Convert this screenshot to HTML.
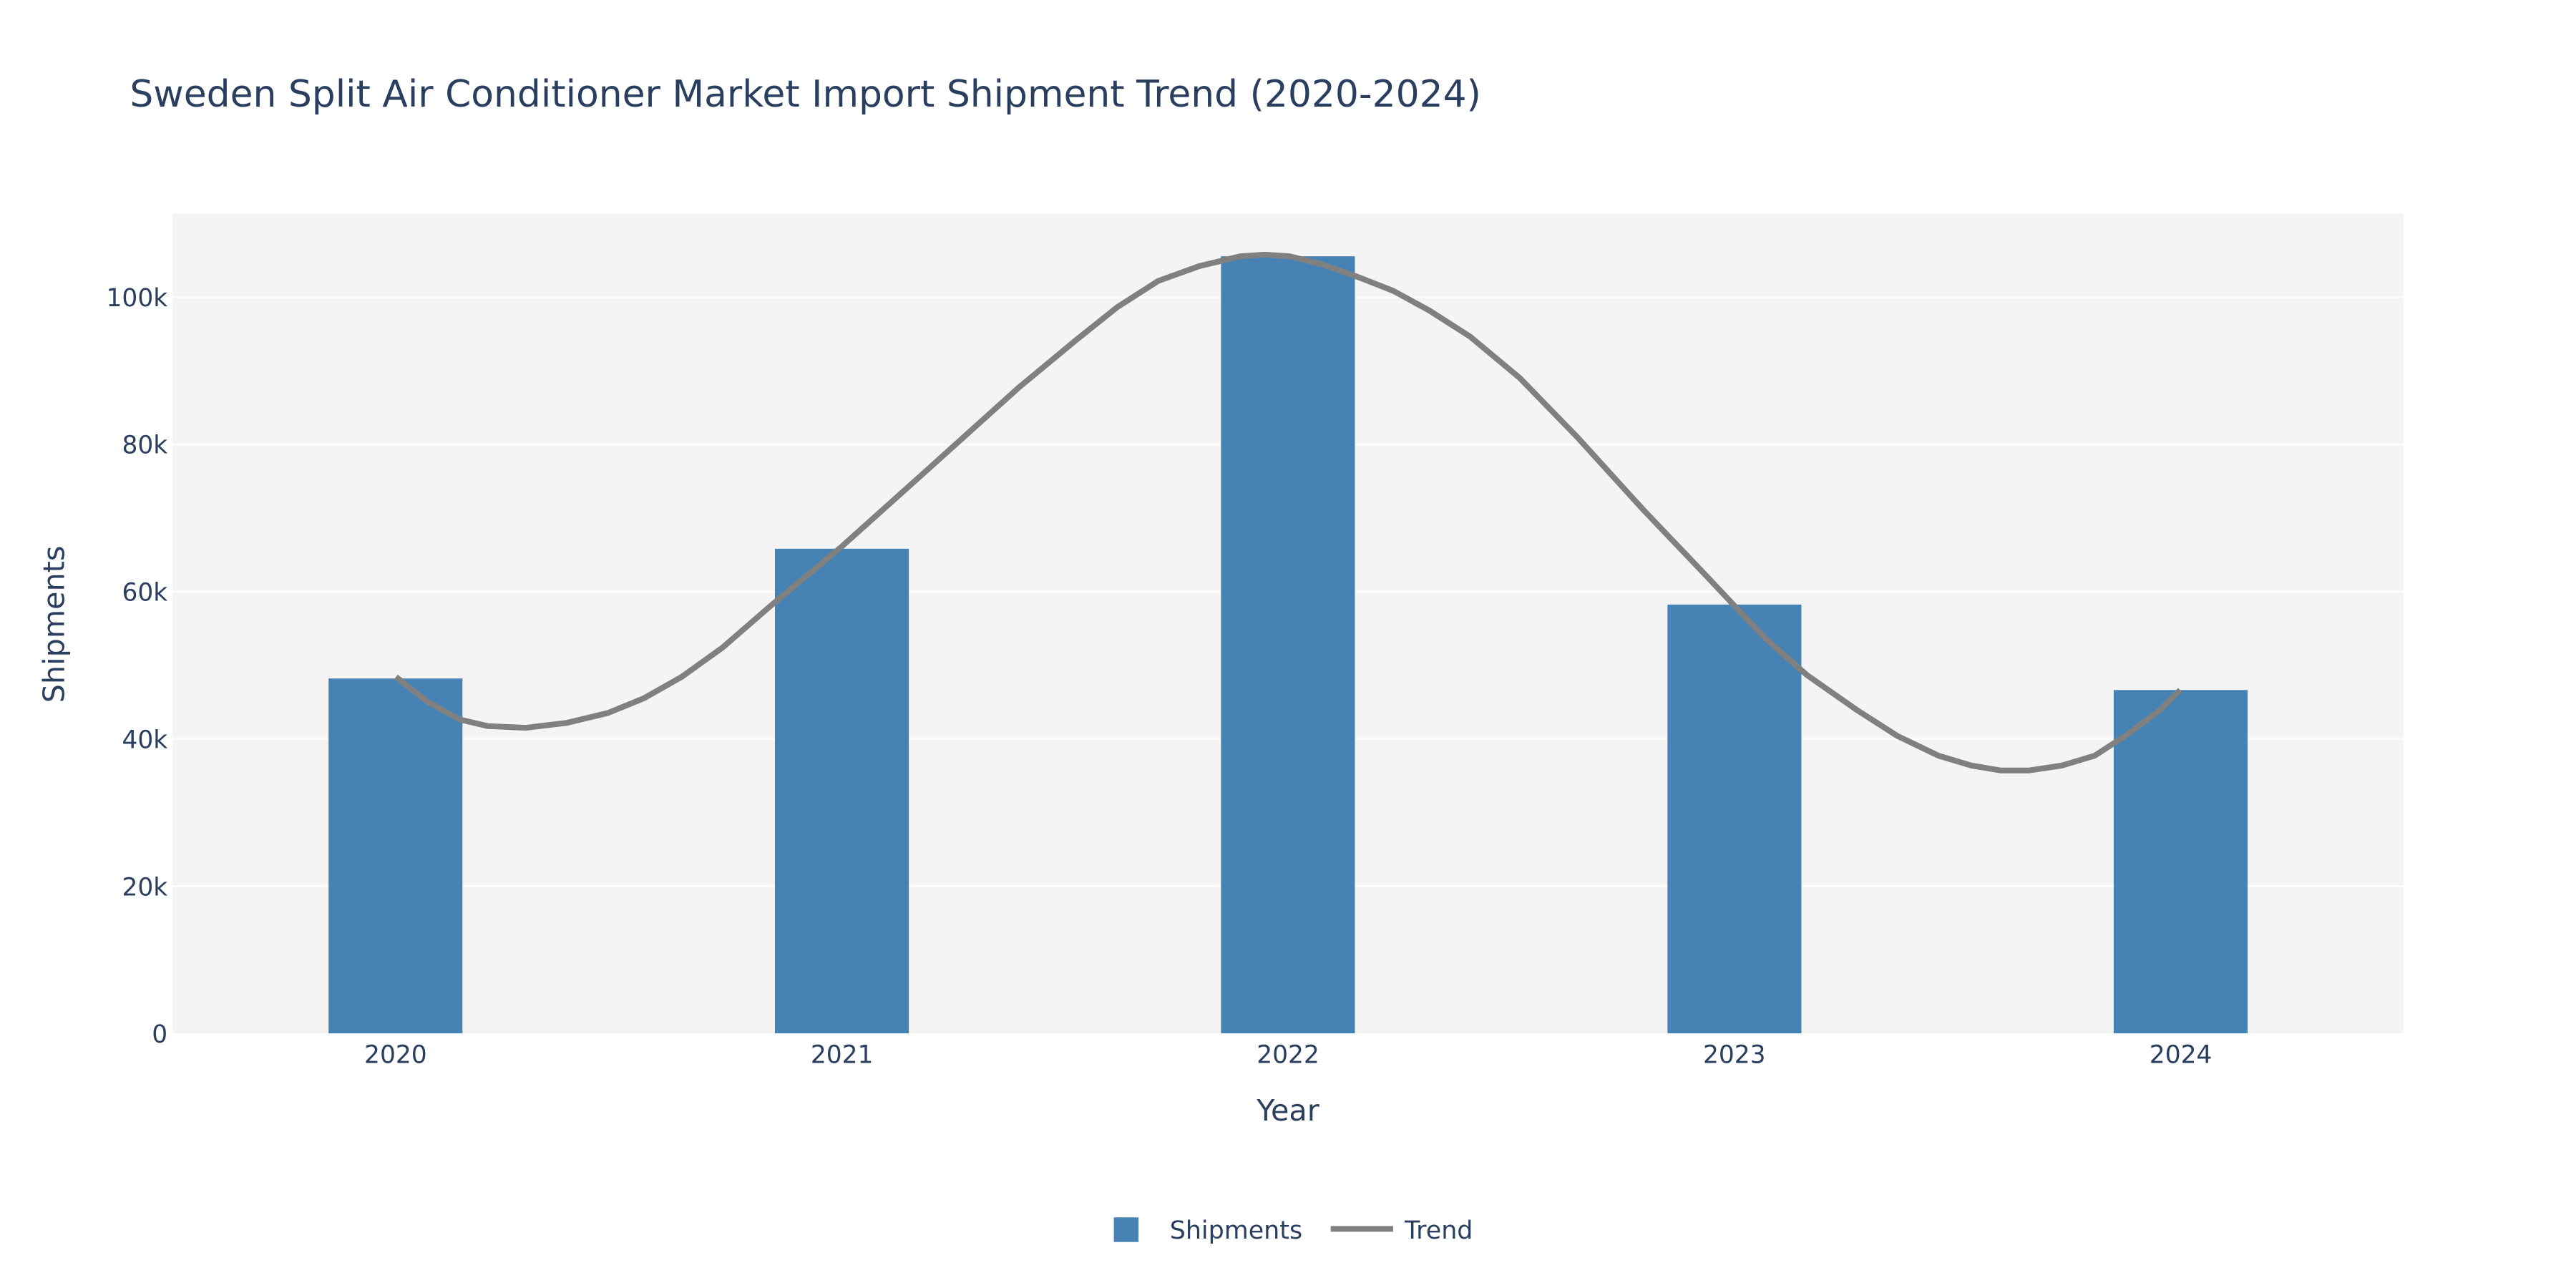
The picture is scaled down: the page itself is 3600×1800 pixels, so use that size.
<!DOCTYPE html>
<html><head><meta charset="utf-8"><style>html,body{margin:0;padding:0;background:#fff}svg{display:block}</style></head>
<body>
<svg width="3600" height="1800" viewBox="0 0 1568 784" xmlns="http://www.w3.org/2000/svg" font-family="'DejaVu Sans','Liberation Sans',sans-serif" fill="#2a3f5f">
<rect x="0" y="0" width="1568" height="784" fill="#fff"/>
<rect x="105" y="130" width="1358" height="499" fill="#f4f4f4"/>
<g stroke="#fff" stroke-width="1">
<line x1="105" x2="1463" y1="539.4" y2="539.4"/>
<line x1="105" x2="1463" y1="449.8" y2="449.8"/>
<line x1="105" x2="1463" y1="360.2" y2="360.2"/>
<line x1="105" x2="1463" y1="270.6" y2="270.6"/>
<line x1="105" x2="1463" y1="181" y2="181"/>
</g>
<g fill="#4682b4">
<rect x="200" y="413" width="81.5" height="216"/>
<rect x="471.7" y="334" width="81.5" height="295"/>
<rect x="743.2" y="156" width="81.5" height="473"/>
<rect x="1015" y="368" width="81.5" height="261"/>
<rect x="1286.6" y="420" width="81.5" height="209"/>
</g>
<polyline fill="none" stroke="#808080" stroke-width="3.5" stroke-linejoin="round" points="241,412 260,427 280,438 297,442 320,443 345,440 370,434 392,425 415,412 440,394 470,368 512,333 560,290 620,236 655,207 680,187 705,171 730,162 755,156 770,155 785,156 805,161 825,168 848,177 870,189 895,205 925,230 960,266 1000,310 1040,352 1056,369 1075,389 1100,411 1130,432 1155,448 1180,460 1200,466 1218,469 1235,469 1255,466 1275,460 1295,447 1315,432 1327,420"/>
<g font-size="15" text-anchor="end">
<text x="102" y="634.5">0</text>
<text x="102" y="545">20k</text>
<text x="102" y="455.3">40k</text>
<text x="102" y="365.7">60k</text>
<text x="102" y="276">80k</text>
<text x="102" y="186.5">100k</text>
</g>
<g font-size="15" text-anchor="middle">
<text x="240.8" y="647">2020</text>
<text x="512.5" y="647">2021</text>
<text x="784" y="647">2022</text>
<text x="1055.7" y="647">2023</text>
<text x="1327.4" y="647">2024</text>
</g>
<text x="784" y="682" font-size="18" text-anchor="middle">Year</text>
<text transform="translate(39,380) rotate(-90)" font-size="18" text-anchor="middle">Shipments</text>
<text x="79" y="65" font-size="22.6">Sweden Split Air Conditioner Market Import Shipment Trend (2020-2024)</text>
<rect x="678" y="741" width="15" height="15" fill="#4682b4"/>
<text x="712" y="754" font-size="15.2">Shipments</text>
<line x1="810" x2="848" y1="748" y2="748" stroke="#808080" stroke-width="3.5"/>
<text x="855" y="754" font-size="15.2">Trend</text>
</svg>
</body></html>
